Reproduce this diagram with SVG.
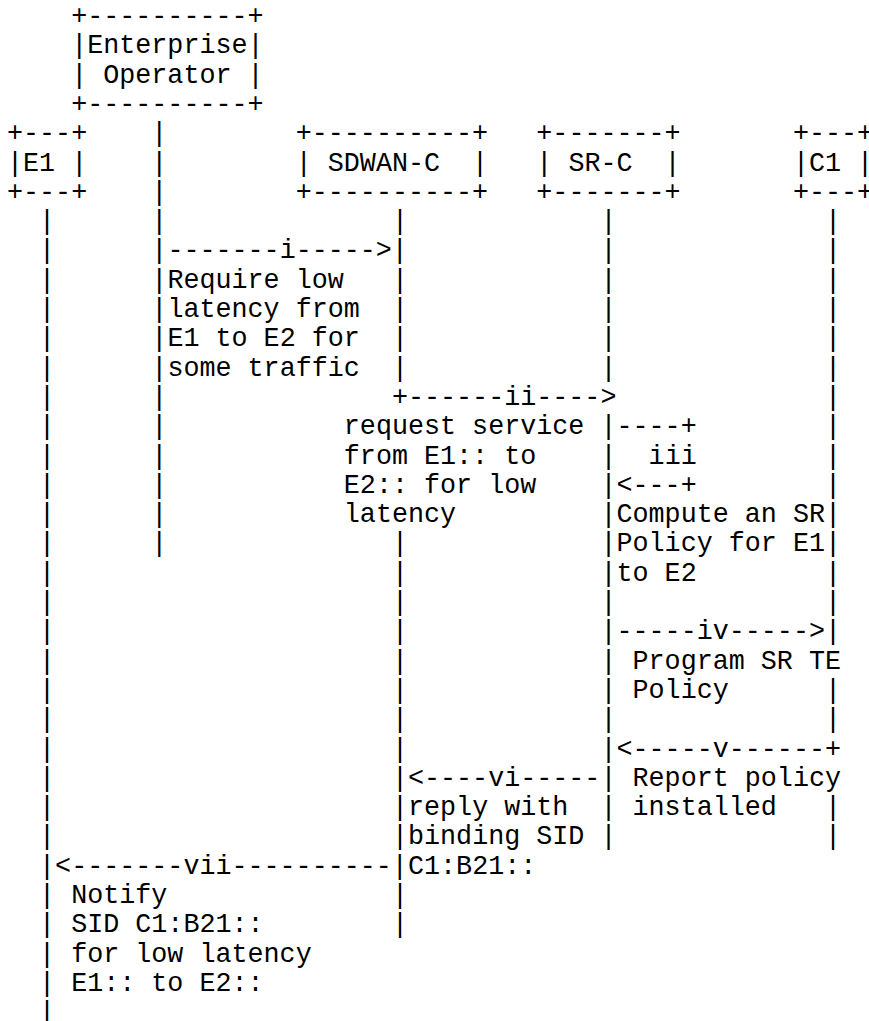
<svg xmlns="http://www.w3.org/2000/svg" width="869" height="1021" viewBox="0 0 869 1021">
<style>
text{font-family:"Liberation Mono","DejaVu Sans Mono",monospace;font-size:26.73px;fill:#000;white-space:pre}
</style>
<rect width="869" height="1021" fill="#fff"/>
<g id="node-enterprise">
<text x="71.16" y="24">+----------+</text>
<text x="71.16" y="53.3">|Enterprise|</text>
<text x="71.16" y="82.6">| Operator |</text>
<text x="71.16" y="111.9">+----------+</text>
</g>
<g id="node-e1">
<text x="7" y="141.2">+---+</text>
<text x="7" y="170.5">|E1 |</text>
<text x="7" y="199.8">+---+</text>
</g>
<g id="node-sdwan">
<text x="295.72" y="141.2">+----------+</text>
<text x="295.72" y="170.5">| SDWAN-C  |</text>
<text x="295.72" y="199.8">+----------+</text>
</g>
<g id="node-src">
<text x="536.32" y="141.2">+-------+</text>
<text x="536.32" y="170.5">| SR-C  |</text>
<text x="536.32" y="199.8">+-------+</text>
</g>
<g id="node-c1">
<text x="792.96" y="141.2">+---+</text>
<text x="792.96" y="170.5">|C1 |</text>
<text x="792.96" y="199.8">+---+</text>
</g>
<g id="connectors">
<text x="151.36" y="141.2">|</text>
<text x="151.36" y="170.5">|</text>
<text x="151.36" y="199.8">|</text>
<text x="39.08 151.36 391.96 600.48 825.04" y="229.1">|||||</text>
<text x="39.08" y="258.4">|</text><text x="151.36" y="258.4">|-------i-----&gt;|</text><text x="600.48 825.04" y="258.4">||</text>
<text x="39.08 151.36 391.96 600.48 825.04" y="287.7">|||||</text>
<text x="39.08 151.36 391.96 600.48 825.04" y="317">|||||</text>
<text x="39.08 151.36 391.96 600.48 825.04" y="346.3">|||||</text>
<text x="39.08 151.36 391.96 600.48 825.04" y="375.6">|||||</text>
<text x="39.08 151.36 825.04" y="404.9">|||</text><text x="391.96" y="404.9">+------ii----&gt;</text>
<text x="39.08 151.36 600.48 825.04" y="434.2">||||</text><text x="616.52" y="434.2">----+</text>
<text x="39.08 151.36 600.48 825.04" y="463.5">||||</text>
<text x="39.08 151.36 600.48 825.04" y="492.8">||||</text><text x="616.52" y="492.8">&lt;---+</text>
<text x="39.08 151.36 600.48 825.04" y="522.1">||||</text>
<text x="39.08 151.36 391.96 600.48 825.04" y="551.4">|||||</text>
<text x="39.08 391.96 600.48 825.04" y="580.7">||||</text>
<text x="39.08 391.96 600.48 825.04" y="610">||||</text>
<text x="39.08 391.96" y="639.3">||</text><text x="600.48" y="639.3">|-----iv-----&gt;|</text>
<text x="39.08 391.96 600.48" y="668.6">|||</text>
<text x="39.08 391.96 600.48 825.04" y="697.9">||||</text>
<text x="39.08 391.96 600.48 825.04" y="727.2">||||</text>
<text x="39.08 391.96" y="756.5">||</text><text x="600.48" y="756.5">|&lt;-----v------+</text>
<text x="39.08" y="785.8">|</text><text x="391.96" y="785.8">|&lt;----vi-----|</text>
<text x="39.08 391.96 600.48 825.04" y="815.1">||||</text>
<text x="39.08 391.96 600.48 825.04" y="844.4">||||</text>
<text x="39.08" y="873.7">|&lt;-------vii----------|</text>
<text x="39.08 391.96" y="903">||</text>
<text x="39.08 391.96" y="932.3">||</text>
<text x="39.08" y="961.6">|</text>
<text x="39.08" y="990.9">|</text>
<text x="39.08" y="1020.2">|</text>
</g>
<g id="labels">
<text x="167.4" y="287.7">Require low</text>
<text x="167.4" y="317">latency from</text>
<text x="167.4" y="346.3">E1 to E2 for</text>
<text x="167.4" y="375.6">some traffic</text>
<text x="343.84" y="434.2">request service</text>
<text x="343.84" y="463.5">from E1:: to</text>
<text x="343.84" y="492.8">E2:: for low</text>
<text x="343.84" y="522.1">latency</text>
<text x="648.6" y="463.5">iii</text>
<text x="616.52" y="522.1">Compute an SR</text>
<text x="616.52" y="551.4">Policy for E1</text>
<text x="616.52" y="580.7">to E2</text>
<text x="632.56" y="668.6">Program SR TE</text>
<text x="632.56" y="697.9">Policy</text>
<text x="632.56" y="785.8">Report policy</text>
<text x="632.56" y="815.1">installed</text>
<text x="408" y="815.1">reply with</text>
<text x="408" y="844.4">binding SID</text>
<text x="408" y="873.7">C1:B21::</text>
<text x="71.16" y="903">Notify</text>
<text x="71.16" y="932.3">SID C1:B21::</text>
<text x="71.16" y="961.6">for low latency</text>
<text x="71.16" y="990.9">E1:: to E2::</text>
</g>
</svg>
